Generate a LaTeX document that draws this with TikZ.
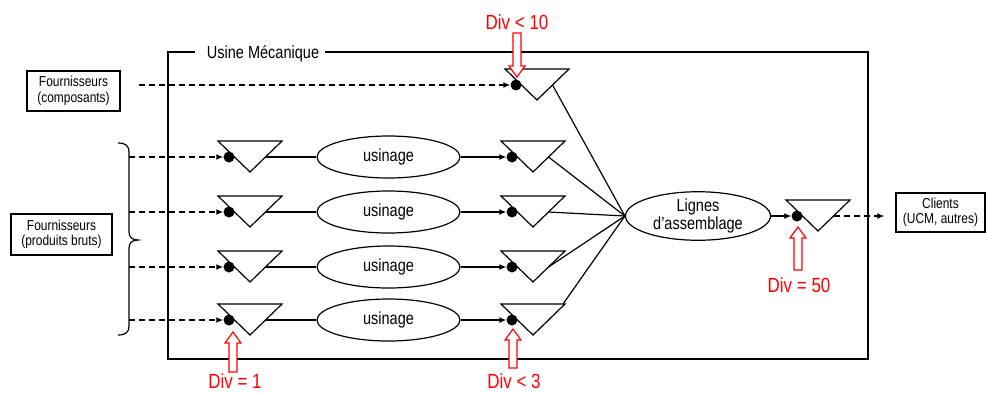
\documentclass[tikz,border=0pt]{standalone}
\usepackage{fontspec}
\setmainfont{Liberation Sans}[FakeStretch=0.83]
\usetikzlibrary{arrows.meta,shapes.geometric}
\tikzset{
  lw/.style={line width=1.2pt},
  bigtxt/.style={font=\fontsize{17.5}{18}\selectfont},
  smalltxt/.style={font=\fontsize{14.4}{15.5}\selectfont},
  redtxt/.style={text=red, font=\fontsize{20.5}{22}\selectfont, inner sep=0},
  box/.style={draw, line width=1.3pt, rectangle, inner sep=0, align=center, smalltxt},
  proc/.style={draw, ellipse, line width=1.2pt, inner sep=0, bigtxt, align=center},
  dotn/.style={circle, fill=black, minimum size=11pt, inner sep=0},
  tip/.style={-{Latex[length=7pt,width=6pt]}},
  dashline/.style={line width=1.5pt, dash pattern=on 6pt off 4pt},
  redarr/.style={draw=red, fill=white, line width=1.2pt},
  tri/.pic={
    \draw[line width=1.2pt] (-32,-16) -- (32,-16) -- (0,15) -- cycle;
    \node[dotn] (-dot) at (-21,0) {};
    \coordinate (-e) at (15.5,0);
    \coordinate (-tr) at (30,-16);
  }
}
\newcommand{\blockarr}[3]{\begin{scope}[shift={#1}, rotate=#2]
  \draw[redarr] (0,0) -- (8,11) -- (4,11) -- (4,#3) -- (-4,#3) -- (-4,11) -- (-8,11) -- cycle;
\end{scope}}
\begin{document}
\begin{tikzpicture}[x=1pt,y=-1pt]
\useasboundingbox (0,0) rectangle (986,392);

% frame with title
\node[bigtxt, anchor=base, inner sep=0] (title) at (263,58) {Usine Mécanique};
\coordinate (g1) at (195,52);
\coordinate (g2) at (325,52);
\draw[lw] (g2) -- (868,52) -- (868,359) -- (168,359) -- (168,52) -- (g1);

% boxes
\node[box, minimum width=93pt, minimum height=40pt] (fc) at (73.5,91) {Fournisseurs\\(composants)};
\node[box, minimum width=101pt, minimum height=41pt] (fb) at (61.5,234.5) {Fournisseurs\\(produits bruts)};
\node[box, minimum width=89pt, minimum height=39pt] (cl) at (940.5,212.5) {Clients\\(UCM, autres)};

% brace
\coordinate (br) at (129,240);
\draw[lw] (118,143) .. controls (126,143) and (129,146) .. (129,152) -- (129,232)
  .. controls (129,237) and (132,240) .. (138,240)
  .. controls (132,240) and (129,243) .. (129,248) -- (129,326)
  .. controls (129,332) and (126,335) .. (118,335);

% triangles
\pic (T) at (537,85) {tri};
\pic (L1) at (250,157) {tri};
\pic (L2) at (250,212) {tri};
\pic (L3) at (250,267) {tri};
\pic (L4) at (250,320) {tri};
\pic (R1) at (533,157) {tri};
\pic (R2) at (533,212) {tri};
\pic (R3) at (533,267) {tri};
\pic (R4) at (533,320) {tri};
\pic (F) at (818,216) {tri};

% ellipses
\node[proc, minimum width=143pt, minimum height=42pt] (u1) at (388.5,157) {usinage};
\node[proc, minimum width=143pt, minimum height=42pt] (u2) at (388.5,212) {usinage};
\node[proc, minimum width=143pt, minimum height=42pt] (u3) at (388.5,267) {usinage};
\node[proc, minimum width=143pt, minimum height=42pt] (u4) at (388.5,320) {usinage};
\node[proc, minimum width=145pt, minimum height=45pt] (lg) at (698,216) {Lignes\\d’assemblage};

% connectors
\draw[dashline, tip, shorten <=18pt] (fc.east |- T-dot) -- (T-dot);
\foreach \i in {1,2,3,4}{
  \draw[dashline, tip] (br |- L\i-dot) -- (L\i-dot);
  \draw[lw] (L\i-e) -- (u\i);
  \draw[lw, tip] (u\i) -- (R\i-dot);
}
\draw[lw] (T-e) -- (lg.west);
\draw[lw] (R1-e) -- (lg.west);
\draw[lw] (R2-e) -- (lg.west);
\draw[lw] (R3-e) -- (lg.west);
\draw[lw] (R4-tr) -- (lg.west);
\draw[lw, tip] (lg) -- (F-dot);
\draw[dashline, tip, shorten >=11pt] (F-e) -- (F-e -| cl.west);

% red markers
\blockarr{(517,77)}{180}{44}
\blockarr{(233,332)}{0}{40}
\blockarr{(513,329)}{0}{39}
\blockarr{(798,227)}{0}{43}
\node[redtxt] (d10) at (517,22) {Div < 10};
\node[redtxt] (d1) at (235,381) {Div = 1};
\node[redtxt] (d3) at (514,381) {Div < 3};
\node[redtxt] (d50) at (799,285) {Div = 50};
\end{tikzpicture}
\end{document}
